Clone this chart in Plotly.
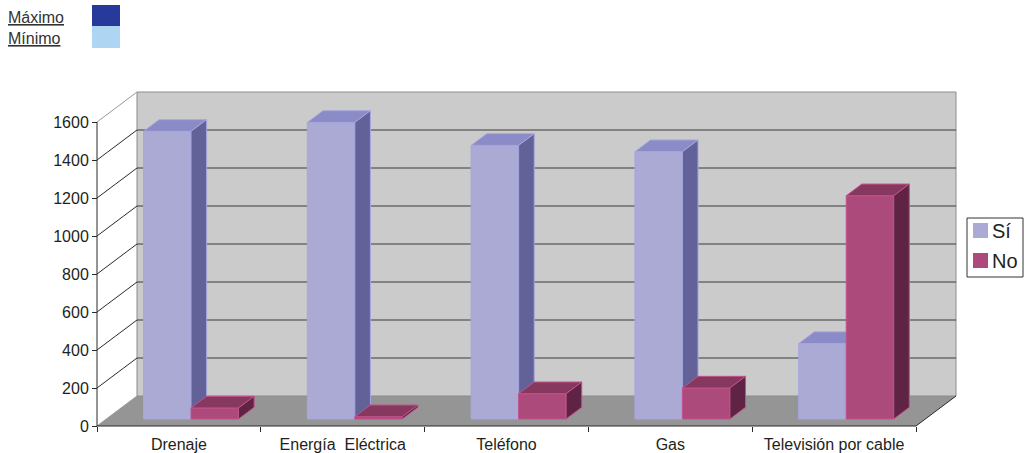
import plotly.graph_objects as go

# ---------------- data ----------------
categories = ["Drenaje", "Energía\u00a0 Eléctrica", "Teléfono", "Gas", "Televisión por cable"]
series_names = ["Sí", "No"]
si_values = [1514, 1561, 1440, 1407, 397]
no_values = [58, 12, 133, 163, 1175]
y_ticks = [0, 200, 400, 600, 800, 1000, 1200, 1400, 1600]
top_legend_labels = ["Máximo", "Mínimo"]

# ---------------- geometry / style ----------------
W, H = 1027, 453
FRONT_L, FRONT_B = 97, 426          # px of front origin (x=0, y=0)
CAT_PX = 163.8                      # px per category
VAL_PX = 0.19                       # px per value unit
PLOT_L, PLOT_R, PLOT_T, PLOT_B = 91, 962, 88, 430
N = len(categories)
YMAX = y_ticks[-1]
DX = 40 / CAT_PX                    # full depth, category units
DY = 30 / VAL_PX                    # full depth, value units
F0 = 7 / 30                         # depth fraction of bars' front face
BAR_DEPTH = 0.39                    # depth fraction of the bars
BAR_W = 0.29
BAR_START = 0.284                   # front face left edge inside category
BAR_BASE = F0 * DY
BDX, BDY = BAR_DEPTH * DX, BAR_DEPTH * DY

x_range = [(PLOT_L - FRONT_L) / CAT_PX, (PLOT_R - FRONT_L) / CAT_PX]
y_range = [(FRONT_B - PLOT_B) / VAL_PX, (FRONT_B - PLOT_T) / VAL_PX]

FONT = "Liberation Sans, Arial, sans-serif"
TXT = "#231f20"
colors = {
    "Sí": dict(front="#abaad4", top="#8a8bc7", side="#626298", edge="#a6a6e0"),
    "No": dict(front="#ac4a7b", top="#87385f", side="#5f2444", edge="#c2528c"),
}


def px_x(p):
    return (p - PLOT_L) / (PLOT_R - PLOT_L)


def px_y(p):
    return (PLOT_B - p) / (PLOT_B - PLOT_T)


fig = go.Figure()

for k, (name, vals) in enumerate(zip(series_names, [si_values, no_values])):
    c = colors[name]
    xa = "x" if k == 0 else "x2"
    ya = "y" if k == 0 else "y2"
    centers = [i + BAR_START + BAR_W * (k + 0.5) for i in range(N)]
    fig.add_trace(go.Bar(
        x=centers, y=vals, base=[BAR_BASE] * N, width=BAR_W, name=name,
        marker=dict(color=c["front"], line=dict(color=c["edge"], width=1)),
        xaxis=xa, yaxis=ya, hoverinfo="skip", showlegend=False))
    tx, ty, sx, sy = [], [], [], []
    for xc, v in zip(centers, vals):
        xl, xr = xc - BAR_W / 2, xc + BAR_W / 2
        yb, yt = BAR_BASE, BAR_BASE + v
        tx += [xl, xr, xr + BDX, xl + BDX, xl, None]
        ty += [yt, yt, yt + BDY, yt + BDY, yt, None]
        sx += [xr, xr + BDX, xr + BDX, xr, xr, None]
        sy += [yb, yb + BDY, yt + BDY, yt, yb, None]
    fig.add_trace(go.Scatter(x=tx, y=ty, mode="lines", fill="toself",
                             fillcolor=c["top"], line=dict(color=c["edge"], width=1),
                             showlegend=False, hoverinfo="skip", xaxis=xa, yaxis=ya))
    fig.add_trace(go.Scatter(x=sx, y=sy, mode="lines", fill="toself",
                             fillcolor=c["side"], line=dict(color=c["edge"], width=1),
                             showlegend=False, hoverinfo="skip", xaxis=xa, yaxis=ya))

shapes = []
# floor
shapes.append(dict(type="path", xref="x", yref="y", layer="below",
                   path=f"M 0,0 L {N},0 L {N + DX},{DY} L {DX},{DY} Z",
                   fillcolor="#959595", line=dict(width=0)))
# back wall
shapes.append(dict(type="rect", xref="x", yref="y", layer="below",
                   x0=DX, x1=N + DX, y0=DY, y1=YMAX + DY,
                   fillcolor="#cbcbcb", line=dict(color="#8c8c8c", width=1)))
# back wall gridlines
for v in y_ticks[1:-1]:
    shapes.append(dict(type="line", xref="x", yref="y", layer="below",
                       x0=DX, x1=N + DX, y0=v + DY, y1=v + DY,
                       line=dict(color="#3a3a3a", width=1)))
# side wall diagonals
for v in y_ticks:
    col = "#9a9a9a" if v in (0, YMAX) else "#2a2a2a"
    shapes.append(dict(type="line", xref="x", yref="y", layer="below",
                       x0=0, x1=DX, y0=v, y1=v + DY, line=dict(color=col, width=1)))
# floor right edge
shapes.append(dict(type="line", xref="x", yref="y", layer="below",
                   x0=N, x1=N + DX, y0=0, y1=DY, line=dict(color="#2a2a2a", width=1)))
# front axes lines
shapes.append(dict(type="line", xref="x", yref="y", layer="above",
                   x0=0, x1=0, y0=0, y1=YMAX, line=dict(color="#2a2a2a", width=1)))
shapes.append(dict(type="line", xref="x", yref="y", layer="above",
                   x0=0, x1=N, y0=0, y1=0, line=dict(color="#2a2a2a", width=1)))

# top-left legend swatches
sw_cols = ["#27399b", "#aed6f2"]
sw_rows = [(5, 26), (26, 48)]
for col, (a, b) in zip(sw_cols, sw_rows):
    shapes.append(dict(type="rect", xref="paper", yref="paper",
                       x0=px_x(92), x1=px_x(120), y0=px_y(b), y1=px_y(a),
                       fillcolor=col, line=dict(width=0)))

annotations = []
for lbl, yc in zip(top_legend_labels, [17, 39]):
    annotations.append(dict(text=f"<u>{lbl}</u>", xref="paper", yref="paper",
                            x=px_x(6), y=px_y(yc), xanchor="left", yanchor="middle",
                            showarrow=False, font=dict(family=FONT, size=16, color="#333333")))

# series legend (right)
LEG_L, LEG_T, LEG_R, LEG_B = 967, 218, 1023, 277
shapes.append(dict(type="rect", xref="paper", yref="paper",
                   x0=px_x(LEG_L), x1=px_x(LEG_R), y0=px_y(LEG_B), y1=px_y(LEG_T),
                   fillcolor="white", line=dict(color="#333333", width=1)))
for k, name in enumerate(series_names):
    top = 223 + 30 * k
    shapes.append(dict(type="rect", xref="paper", yref="paper",
                       x0=px_x(973), x1=px_x(988), y0=px_y(top + 15), y1=px_y(top),
                       fillcolor=colors[name]["front"], line=dict(width=0)))
    annotations.append(dict(text=name, xref="paper", yref="paper",
                            x=px_x(990), y=px_y(top + 8), xanchor="left", yanchor="middle",
                            showarrow=False, font=dict(family=FONT, size=20, color=TXT)))

fig.update_layout(
    template="none",
    width=W, height=H,
    margin=dict(l=PLOT_L, r=W - PLOT_R, t=PLOT_T, b=H - PLOT_B, autoexpand=False),
    paper_bgcolor="white", plot_bgcolor="white",
    barmode="overlay",
    font=dict(family=FONT, size=16, color=TXT),
    shapes=shapes, annotations=annotations,
    xaxis=dict(range=x_range, anchor="free", position=px_y(FRONT_B),
               tickmode="array", tickvals=[i + 0.5 for i in range(N)], ticktext=categories,
               ticks="", showline=False, showgrid=False, zeroline=False,
               automargin=False, tickfont=dict(size=16, color=TXT), ticklabelstandoff=7,
               minor=dict(tickmode="array", tickvals=list(range(N + 1)), ticks="outside",
                          ticklen=5, tickcolor="#2a2a2a", tickwidth=1, showgrid=False)),
    yaxis=dict(range=y_range, anchor="free", position=px_x(FRONT_L),
               tickmode="array", tickvals=y_ticks, ticks="outside", ticklen=5,
               tickcolor="#2a2a2a", showline=False, showgrid=False, zeroline=False,
               automargin=False, tickfont=dict(size=16, color=TXT)),
    xaxis2=dict(range=x_range, overlaying="x", visible=False, showgrid=False, zeroline=False),
    yaxis2=dict(range=y_range, overlaying="y", visible=False, showgrid=False, zeroline=False),
    showlegend=False,
)

fig.write_html("out.html", config={"displayModeBar": False},
               post_script="document.body.style.margin='0px';")
